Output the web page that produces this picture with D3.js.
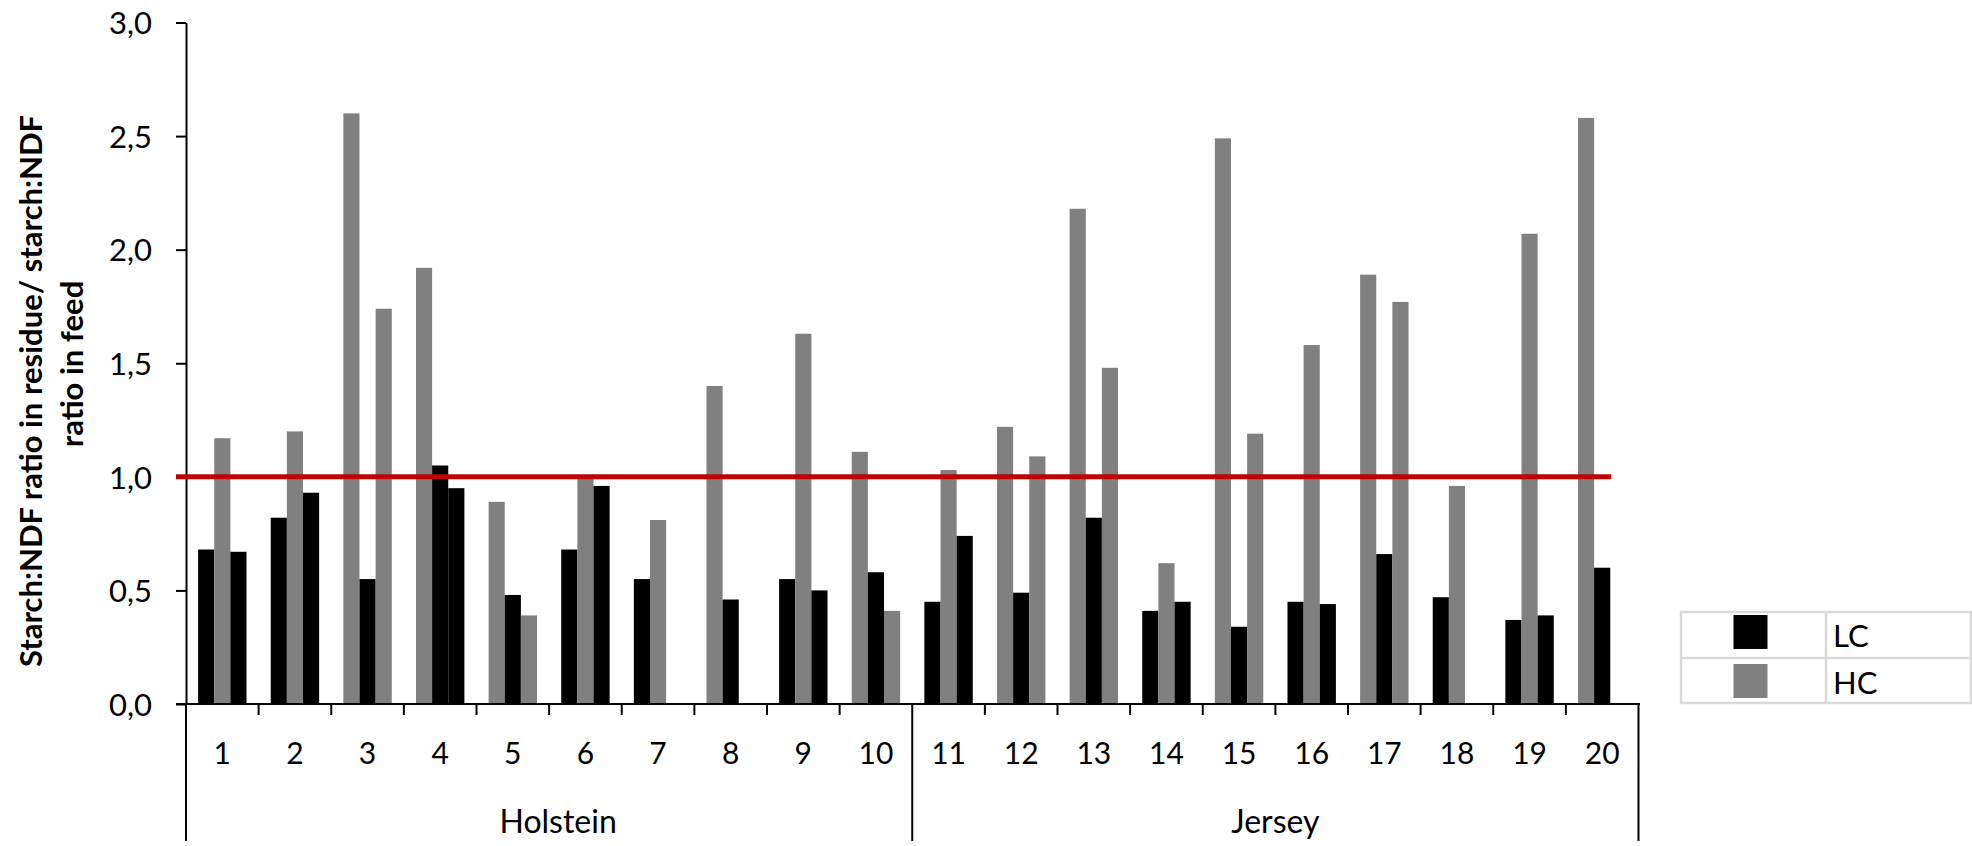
<!DOCTYPE html>
<html>
<head>
<meta charset="utf-8">
<script src="https://cdn.jsdelivr.net/npm/d3@7"></script>
<style>
  html, body { margin: 0; padding: 0; background: #ffffff; }
  svg { display: block; }
  text { font-family: Lato, "Open Sans", sans-serif; fill: #000; }
</style>
</head>
<body>
<script>
// ---------------- data ----------------
const cows = ["1","2","3","4","5","6","7","8","9","10","11","12","13","14","15","16","17","18","19","20"];
const breeds = ["Holstein", "Jersey"];
const cowsPerBreed = [10, 10];
const periods = ["P1", "P2", "P3"];

// values per period (null = no observation)
const period1 = [0.68, 0.82, 2.60, 1.92, 0.89, 0.68, 0.55, 1.40, 0.55, 1.11, 0.45, 1.22, 2.18, 0.41, 2.49, 0.45, 1.89, 0.47, 0.37, 2.58];
const period2 = [1.17, 1.20, 0.55, 1.05, 0.48, 1.00, 0.81, 0.46, 1.63, 0.58, 1.03, 0.49, 0.82, 0.62, 0.34, 1.58, 0.66, 0.96, 2.07, 0.60];
const period3 = [0.67, 0.93, 1.74, 0.95, 0.39, 0.96, null, null, 0.50, 0.41, 0.74, 1.09, 1.48, 0.45, 1.19, 0.44, 1.77, null, 0.39, null];

// diet fed in each period
const diet1 = ["LC","LC","HC","HC","HC","LC","LC","HC","LC","HC","LC","HC","HC","LC","HC","LC","HC","LC","LC","HC"];
const diet2 = ["HC","HC","LC","LC","LC","HC","HC","LC","HC","LC","HC","LC","LC","HC","LC","HC","LC","HC","HC","LC"];
const diet3 = ["LC","LC","HC","LC","HC","LC", null,  null,"LC","HC","LC","HC","HC","LC","HC","LC","HC", null,"LC", null];

const diets = ["LC", "HC"];
const yTicks = [0, 0.5, 1.0, 1.5, 2.0, 2.5, 3.0];
const yTickLabels = ["0,0", "0,5", "1,0", "1,5", "2,0", "2,5", "3,0"];
const refValue = 1.0;
const yTitleLines = ["Starch:NDF ratio in residue/ starch:NDF", "ratio in feed"];

// ---------------- layout ----------------
const W = 1972, H = 846;
const svg = d3.select("body").append("svg").attr("width", W).attr("height", H);

const x = d3.scaleBand().domain(cows).range([186, 1638.5]).paddingInner(0).paddingOuter(0);
const xSub = d3.scaleBand().domain(periods).range([0, x.bandwidth()]).paddingInner(0).paddingOuter(0.75);
const y = d3.scaleLinear().domain([0, 3]).range([704, 22.5]);
const color = d3.scaleOrdinal().domain(diets).range(["#000000", "#808080"]);

const values = [period1, period2, period3];
const dietsByPeriod = [diet1, diet2, diet3];
const bars = [];
cows.forEach((c, i) => {
  periods.forEach((p, j) => {
    const v = values[j][i];
    if (v != null) bars.push({ cow: c, period: p, value: v, diet: dietsByPeriod[j][i] });
  });
});

// bars
svg.append("g").selectAll("rect").data(bars).join("rect")
  .attr("x", d => x(d.cow) + xSub(d.period))
  .attr("width", xSub.bandwidth())
  .attr("y", d => y(d.value))
  .attr("height", d => y(0) - y(d.value))
  .attr("fill", d => color(d.diet));

// y axis
const yAxis = d3.axisLeft(y)
  .tickValues(yTicks)
  .tickFormat((d, i) => yTickLabels[i])
  .tickSize(10).tickSizeOuter(0).tickPadding(24);
const gy = svg.append("g").attr("transform", `translate(${x.range()[0]},0)`).call(yAxis);
gy.select(".domain").attr("stroke", "#000").attr("stroke-width", 2);
gy.selectAll(".tick line").attr("stroke", "#000").attr("stroke-width", 2);
gy.selectAll(".tick text").attr("font-size", 31).attr("dy", "0.36em").attr("font-family", "Lato, sans-serif");

// x axis baseline
const x0 = x.range()[0], x1 = x.range()[1];
svg.append("line")
  .attr("x1", x0 - 10).attr("x2", x1 + 1.5)
  .attr("y1", y(0)).attr("y2", y(0))
  .attr("stroke", "#000").attr("stroke-width", 2);

// category boundary ticks
const boundaries = d3.range(cows.length + 1);
const groupEdges = [0];
cowsPerBreed.reduce((acc, n) => { groupEdges.push(acc + n); return acc + n; }, 0);
svg.append("g").selectAll("line").data(boundaries).join("line")
  .attr("x1", i => x0 + i * x.step()).attr("x2", i => x0 + i * x.step())
  .attr("y1", y(0)).attr("y2", i => groupEdges.includes(i) ? 841 : y(0) + 11)
  .attr("stroke", "#000").attr("stroke-width", 2);

// category labels
svg.append("g").selectAll("text").data(cows).join("text")
  .attr("x", d => x(d) + x.bandwidth() / 2)
  .attr("y", 764)
  .attr("text-anchor", "middle")
  .attr("font-size", 30)
  .text(d => d);

// breed labels
svg.append("g").selectAll("text").data(breeds).join("text")
  .attr("x", (d, i) => (x0 + groupEdges[i] * x.step() + x0 + groupEdges[i + 1] * x.step()) / 2 + (i === 0 ? 9 : 0))
  .attr("y", 833)
  .attr("text-anchor", "middle")
  .attr("font-size", 32)
  .text(d => d);

// reference line at 1.0 (ends at right edge of last cow's second bar)
const lastCow = cows[cows.length - 1];
svg.append("line")
  .attr("x1", x0 - 10)
  .attr("x2", x(lastCow) + xSub("P2") + xSub.bandwidth() + 1)
  .attr("y1", y(refValue)).attr("y2", y(refValue))
  .attr("stroke", "#c00000").attr("stroke-width", 5);

// y-axis title
const yt = svg.append("g");
yt.append("text")
  .attr("transform", "translate(41.5,391) rotate(-90)")
  .attr("text-anchor", "middle")
  .attr("font-weight", "bold")
  .attr("font-size", 31)
  .text(yTitleLines[0]);
yt.append("text")
  .attr("transform", "translate(82.5,364) rotate(-90)")
  .attr("text-anchor", "middle")
  .attr("font-weight", "bold")
  .attr("font-size", 31)
  .text(yTitleLines[1]);

// legend (table style)
const lg = svg.append("g");
const lx = 1681, ly = 612, lw = 290, lh = 91, colSplit = 1826, rowSplit = 658;
lg.append("rect").attr("x", lx).attr("y", ly).attr("width", lw).attr("height", lh)
  .attr("fill", "#fff").attr("stroke", "#d9d9d9").attr("stroke-width", 2.5);
lg.append("line").attr("x1", colSplit).attr("x2", colSplit).attr("y1", ly).attr("y2", ly + lh)
  .attr("stroke", "#d9d9d9").attr("stroke-width", 2.5);
lg.append("line").attr("x1", lx).attr("x2", lx + lw).attr("y1", rowSplit).attr("y2", rowSplit)
  .attr("stroke", "#d9d9d9").attr("stroke-width", 2.5);
const rowTop = [615, 664];
const baseLines = [647, 693.5];
lg.selectAll("rect.sw").data(diets).join("rect").attr("class", "sw")
  .attr("x", 1733.5).attr("y", (d, i) => rowTop[i])
  .attr("width", 34).attr("height", 34)
  .attr("fill", d => color(d));
lg.selectAll("text").data(diets).join("text")
  .attr("x", 1833).attr("y", (d, i) => baseLines[i])
  .attr("font-size", 31)
  .text(d => d);
</script>
</body>
</html>
